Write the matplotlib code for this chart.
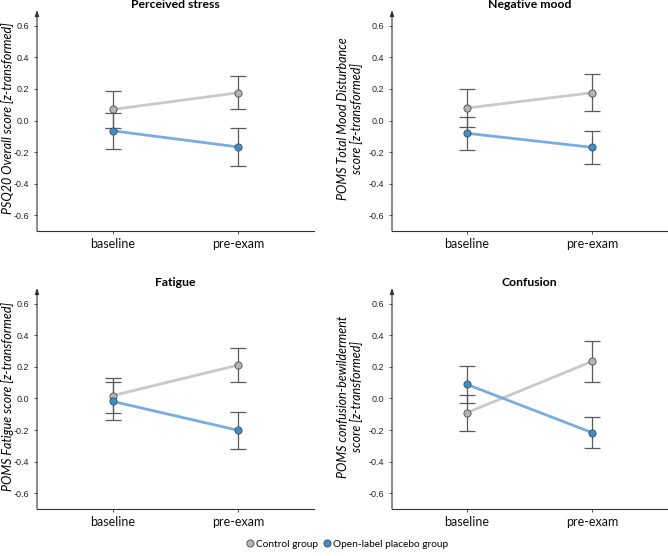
import matplotlib
matplotlib.use("Agg")
import matplotlib.pyplot as plt
from matplotlib.lines import Line2D

timepoints = ["baseline", "pre-exam"]
titles = ["Perceived stress", "Negative mood", "Fatigue", "Confusion"]
ylabels = [
    "PSQ20 Overall score [z-transformed]",
    "POMS Total Mood Disturbance\nscore [z-transformed]",
    "POMS Fatigue score [z-transformed]",
    "POMS confusion-bewilderment\nscore [z-transformed]",
]
control_mean = [[0.07, 0.176], [0.079, 0.176], [0.018, 0.212], [-0.09, 0.235]]
control_err = [[0.115, 0.103], [0.12, 0.117], [0.11, 0.107], [0.115, 0.13]]
olp_mean = [[-0.065, -0.168], [-0.081, -0.17], [-0.018, -0.202], [0.089, -0.216]]
olp_err = [[0.115, 0.12], [0.105, 0.104], [0.12, 0.117], [0.115, 0.098]]
yticks = [-0.6, -0.4, -0.2, 0.0, 0.2, 0.4, 0.6]
ytick_labels = ["-0.6", "-0.4", "-0.2", "0.0", "0.2", "0.4", "0.6"]
legend_labels = ["Control group", "Open-label placebo group"]

grey_line = "#c9c9c9"
grey_fill = "#b5b5b5"
blue_line = "#7aaddf"
blue_fill = "#3a8fcf"
edge = "#4a4a4a"
err_color = "#5a5a5a"
spine_color = "#333333"

plt.rcParams["font.family"] = ["Lato", "DejaVu Sans"]

fig = plt.figure(figsize=(6.68, 5.56), dpi=100)
W, H = 668, 556
boxes = [
    (37, 314, 10, 231),
    (392, 667, 10, 231),
    (37, 314, 288, 509),
    (392, 667, 288, 509),
]
# centre of the y label, in pixels from the left
label_px = [8, 350, 8, 350]

for i, (x0, x1, y0, y1) in enumerate(boxes):
    ax = fig.add_axes([x0 / W, 1 - y1 / H, (x1 - x0) / W, (y1 - y0) / H])
    xs = [1, 2]
    for mean, err, lc, fc, z in [
        (control_mean[i], control_err[i], grey_line, grey_fill, 3),
        (olp_mean[i], olp_err[i], blue_line, blue_fill, 4),
    ]:
        ax.errorbar(xs, mean, yerr=err, fmt="none", ecolor=err_color,
                    elinewidth=0.9, capsize=5.5, capthick=0.9, zorder=2)
        ax.plot(xs, mean, color=lc, linewidth=2.0, zorder=z,
                solid_capstyle="butt")
        ax.plot(xs, mean, linestyle="none", marker="o", markersize=5.2,
                markerfacecolor=fc, markeredgecolor=edge,
                markeredgewidth=0.6, zorder=5)
    ax.set_xlim(0.4, 2.6)
    ax.set_ylim(-0.7, 0.7)
    ax.set_xticks(xs)
    ax.set_xticklabels(timepoints, fontsize=9)
    ax.set_yticks(yticks)
    ax.set_yticklabels(ytick_labels, fontsize=6.5, family="Liberation Sans")
    ax.tick_params(axis="y", length=2.2, width=0.6, color=spine_color,
                   pad=3.5, labelcolor="#222222")
    ax.tick_params(axis="x", length=2.5, width=0.6, color=spine_color,
                   pad=2.5, labelcolor="#111111")
    for side in ["top", "right", "left"]:
        ax.spines[side].set_visible(False)
    ax.spines["bottom"].set_color(spine_color)
    ax.spines["bottom"].set_linewidth(0.8)
    ax.annotate("", xy=(0, 1.0), xytext=(0, 0), xycoords="axes fraction",
                arrowprops=dict(arrowstyle="-|>,head_length=0.35,head_width=0.12",
                                color=spine_color, lw=0.8,
                                shrinkA=0, shrinkB=0),
                annotation_clip=False)
    ax.set_title(titles[i], fontsize=8.8, fontweight="bold", pad=1,
                 y=1.0 + 5 / (y1 - y0) - 0.02)
    fig.text(label_px[i] / W, 1 - ((y0 + y1) / 2 - 2) / H, ylabels[i],
             rotation=90, ha="center", va="center", fontsize=9,
             style="italic", linespacing=1.05)

handles = [
    Line2D([], [], linestyle="none", marker="o", markersize=5.2,
           markerfacecolor=grey_fill, markeredgecolor=edge, markeredgewidth=0.6),
    Line2D([], [], linestyle="none", marker="o", markersize=5.2,
           markerfacecolor=blue_fill, markeredgecolor=edge, markeredgewidth=0.6),
]
fig.legend(handles, legend_labels, loc="center", bbox_to_anchor=(347 / W, 1 - 544 / H),
           ncol=2, frameon=False, fontsize=7.3, handlelength=0.8,
           handletextpad=0.2, columnspacing=0.4, borderaxespad=0)

fig.savefig("out.png", dpi=100)
